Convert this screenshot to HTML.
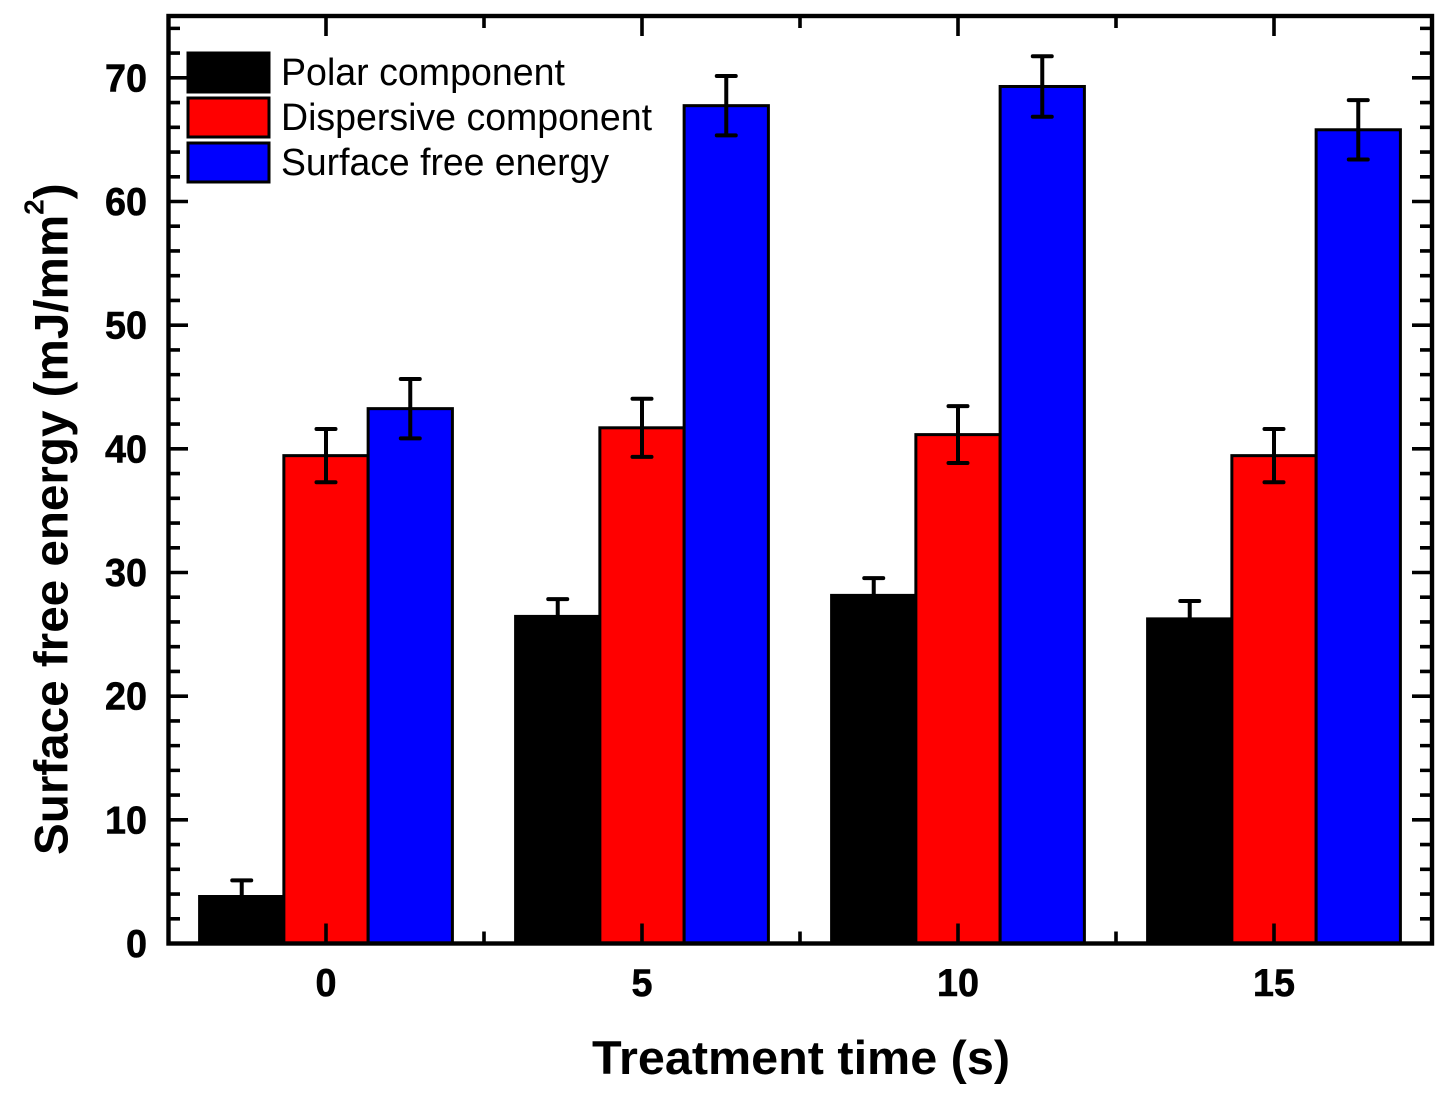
<!DOCTYPE html>
<html>
<head>
<meta charset="utf-8">
<title>Surface free energy vs treatment time</title>
<style>
html,body{margin:0;padding:0;background:#fff;width:1443px;height:1097px;overflow:hidden}
svg{display:block}
text{font-family:"Liberation Sans",sans-serif;fill:#000}
.tick{font-weight:bold;font-size:39px;stroke:#000;stroke-width:0.6px}
.title{font-weight:bold;font-size:47px}
.leg{font-size:38px}
</style>
</head>
<body>
<svg id="chart" xmlns="http://www.w3.org/2000/svg" width="1443" height="1097" viewBox="0 0 1443 1097">
  <g id="bars"></g>
  <g id="errors"></g>
  <g id="ticks"></g>
  <rect x="168.5" y="16" width="1263.5" height="927.5" fill="none" stroke="#000" stroke-width="4.4"/>
  <g id="labels"></g>
  <text class="title" x="801" y="1074" text-anchor="middle" textLength="418" lengthAdjust="spacingAndGlyphs">Treatment time (s)</text>
  <text class="title" transform="translate(67.5,855) rotate(-90)" style="font-size:47.6px">Surface free energy (mJ/mm<tspan style="font-size:28px" dy="-24">2</tspan><tspan dy="24">)</tspan></text>
  <g>
    <rect x="188" y="53" width="81" height="39" fill="#000" stroke="#000" stroke-width="3"/>
    <rect x="188" y="98" width="81" height="39" fill="#f00" stroke="#000" stroke-width="3"/>
    <rect x="188" y="143" width="81" height="39" fill="#00f" stroke="#000" stroke-width="3"/>
    <text class="leg" x="281" y="85" textLength="284" lengthAdjust="spacingAndGlyphs">Polar component</text>
    <text class="leg" x="281" y="130" textLength="371" lengthAdjust="spacingAndGlyphs">Dispersive component</text>
    <text class="leg" x="281" y="175" textLength="328" lengthAdjust="spacingAndGlyphs">Surface free energy</text>
  </g>
</svg>
<script>
const categories = [0, 5, 10, 15];
const polarValues = [3.8, 26.45, 28.15, 26.25];
const polarErrors = [1.3, 1.4, 1.4, 1.45];
const dispersiveValues = [39.45, 41.7, 41.15, 39.45];
const dispersiveErrors = [2.15, 2.35, 2.3, 2.15];
const surfaceValues = [43.25, 67.75, 69.3, 65.8];
const surfaceErrors = [2.4, 2.4, 2.45, 2.4];
const yTickLabels = [0, 10, 20, 30, 40, 50, 60, 70];
const yMinorTicks = [2, 4, 6, 8, 12, 14, 16, 18, 22, 24, 26, 28, 32, 34, 36, 38, 42, 44, 46, 48, 52, 54, 56, 58, 62, 64, 66, 68, 72, 74];
const xMinorTicks = [2.5, 7.5, 12.5];

const xDomain = [-2.5, 17.5];
const yDomain = [0, 75];
const plot = {left: 168, right: 1432, top: 16, bottom: 943.5};
const barSpan = 4 / 3;
const NS = 'http://www.w3.org/2000/svg';

function xScale(v) {
  return plot.left + (v - xDomain[0]) / (xDomain[1] - xDomain[0]) * (plot.right - plot.left);
}
function yScale(v) {
  return plot.bottom - (v - yDomain[0]) / (yDomain[1] - yDomain[0]) * (plot.bottom - plot.top);
}
function make(tag, parent, attrs) {
  const el = document.createElementNS(NS, tag);
  for (const k in attrs) el.setAttribute(k, attrs[k]);
  parent.appendChild(el);
  return el;
}

const series = [
  {key: 'polar', fill: '#000', values: polarValues, errors: polarErrors},
  {key: 'dispersive', fill: '#f00', values: dispersiveValues, errors: dispersiveErrors},
  {key: 'surface', fill: '#00f', values: surfaceValues, errors: surfaceErrors}
];
const barsG = document.getElementById('bars');
const errorsG = document.getElementById('errors');
const ticksG = document.getElementById('ticks');
const labelsG = document.getElementById('labels');

series.forEach(function (s, si) {
  categories.forEach(function (c, ci) {
    const x0 = xScale(c + (si - 1.5) * barSpan);
    const x1 = xScale(c + (si - 0.5) * barSpan);
    const cx = (x0 + x1) / 2;
    const top = yScale(s.values[ci]);
    const bar = make('rect', barsG, {x: x0, y: top, width: x1 - x0, height: plot.bottom - top, fill: s.fill, stroke: '#000', 'stroke-width': 3});
    
    

    const hi = yScale(s.values[ci] + s.errors[ci]);
    const lo = yScale(s.values[ci] - s.errors[ci]);
    const err = make('path', errorsG, {
      d: 'M' + cx + ' ' + hi + 'V' + lo + 'M' + (cx - 9.5) + ' ' + hi + 'H' + (cx + 9.5) + 'M' + (cx - 9.5) + ' ' + lo + 'H' + (cx + 9.5),
      fill: 'none', stroke: '#000', 'stroke-width': 4, 'stroke-linecap': 'round'
    });
    
    
  });
});

function tickPath(d, name) {
  const t = make('path', ticksG, {d: d, fill: 'none', stroke: '#000', 'stroke-width': 3.6});
  
  
}
yTickLabels.forEach(function (v) {
  const y = yScale(v);
  tickPath('M' + plot.left + ' ' + y + 'h20M' + plot.right + ' ' + y + 'h-20', 'y-major-tick-' + v);
  const t = make('text', labelsG, {x: 147, y: y + 13.5, 'text-anchor': 'end', 'class': 'tick', textLength: String(v).length * 21, lengthAdjust: 'spacingAndGlyphs'});
  t.textContent = v;
  
  
});
yMinorTicks.forEach(function (v) {
  const y = yScale(v);
  tickPath('M' + plot.left + ' ' + y + 'h12M' + plot.right + ' ' + y + 'h-12', 'y-minor-tick-' + v);
});
categories.forEach(function (c) {
  const x = xScale(c);
  tickPath('M' + x + ' ' + plot.bottom + 'v-20M' + x + ' ' + plot.top + 'v20', 'x-major-tick-' + c);
  const t = make('text', labelsG, {x: x, y: 996, 'text-anchor': 'middle', 'class': 'tick', textLength: String(c).length * 21, lengthAdjust: 'spacingAndGlyphs'});
  t.textContent = c;
  
  
});
xMinorTicks.forEach(function (v) {
  const x = xScale(v);
  tickPath('M' + x + ' ' + plot.bottom + 'v-12M' + x + ' ' + plot.top + 'v12', 'x-minor-tick-' + v);
});
</script>
</body>
</html>
